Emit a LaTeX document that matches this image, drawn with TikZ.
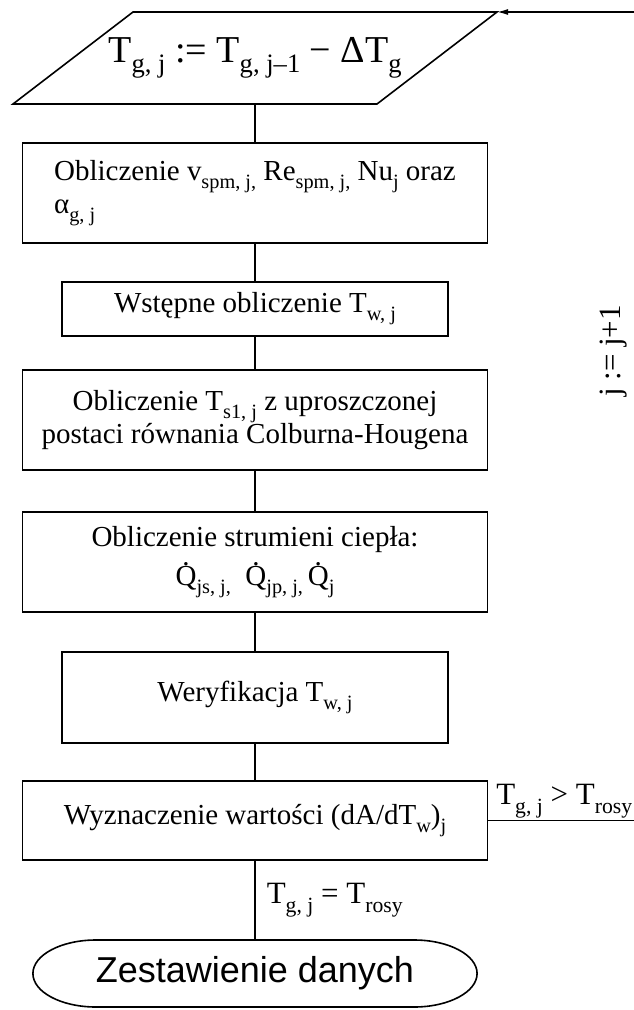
\documentclass[tikz,border=0pt]{standalone}
\usepackage{fontspec}
\usepackage{graphicx}
\setmainfont{Liberation Serif}
\newfontfamily\arialfont{Liberation Sans}
\usetikzlibrary{calc, arrows.meta}

\newcommand{\sub}[1]{\raisebox{-0.28em}{\scalebox{0.7}{#1}}}
\newcommand{\Qdot}{\ooalign{Q\cr\hidewidth\raisebox{0.7em}{.}\hidewidth\cr}}

\tikzset{
	block/.style={draw, line width=1.6pt, inner sep=0pt, outer sep=0pt, align=center, font=\fontsize{29}{33}\selectfont},
	wideblock/.style={block, minimum width=465pt},
	narrowblock/.style={block, minimum width=386pt},
	link/.style={line width=1.6pt},
	note/.style={font=\fontsize{31}{33}\selectfont, inner sep=2pt},
}

\begin{document}
\begin{tikzpicture}[x=1pt, y=-1pt]
	\def\xMID{255}
	\def\slant{60pt}
	\useasboundingbox (0,0) rectangle (633,1010);

	\node [block, draw=none, minimum width=364pt, minimum height=92pt, font=\fontsize{38}{40}\selectfont] (init) at (\xMID,58) {T\sub{g, j} := T\sub{g, j–1} − ΔT\sub{g}};
	\draw [link] ([xshift=-\slant]init.south west) -- ([xshift=\slant]init.north west) -- ([xshift=\slant]init.north east) -- ([xshift=-\slant]init.south east) -- cycle;

	\node [wideblock, minimum height=100pt, align=left] (coef) at (\xMID,193) {Obliczenie v\sub{spm, j,} Re\sub{spm, j,} Nu\sub{j} oraz\\α\sub{g, j}};
	\node [narrowblock, minimum height=54pt] (tw) at (\xMID,309) {Wstępne obliczenie T\sub{w, j}};
	\node [wideblock, minimum height=100pt] (ts) at (\xMID,420) {Obliczenie T\sub{s1, j} z uproszczonej\\postaci równania Colburna-Hougena};
	\node [wideblock, minimum height=100pt] (heat) at (\xMID,562) {Obliczenie strumieni ciepła:\\[6pt]\Qdot\sub{js, j,}~ \Qdot\sub{jp, j,}\,\Qdot\sub{j}};
	\node [narrowblock, minimum height=91pt] (check) at (\xMID,697.5) {Weryfikacja T\sub{w, j}};
	\node [wideblock, minimum height=79pt] (dadt) at (\xMID,820.5) {Wyznaczenie wartości (dA/dT\sub{w})\sub{j}};

	\node [block, draw=none, minimum width=304pt, minimum height=67pt, font=\arialfont\fontsize{36}{40}\selectfont] (sum) at (\xMID,973.5) {Zestawienie danych};
	\draw [link] (sum.north west) -- (sum.north east) arc [start angle=90, end angle=-90, x radius=63pt, y radius=33.5pt] -- (sum.south west) arc [start angle=270, end angle=90, x radius=63pt, y radius=33.5pt] -- cycle;

	\foreach \a/\b in {init/coef, coef/tw, tw/ts, ts/heat, heat/check, check/dadt}
		\draw [link] (\a) -- (\b);
	\draw [link] (dadt) -- node [note, right, xshift=9pt] (eq) {T\sub{g, j} = T\sub{rosy}} (sum);

	\coordinate (rgt) at (636,0);
	\draw [link, -{Latex[length=11pt, width=6pt]}] (dadt.east) -- node [note, pos=0, above right, xshift=6pt] (gt) {T\sub{g, j} > T\sub{rosy}} (rgt |- dadt.east) -- (rgt |- init.north) -- ([xshift=\slant]init.north east);

	\node [note, rotate=90] (incr) at (614,351) {j := j+1};
\end{tikzpicture}
\end{document}
